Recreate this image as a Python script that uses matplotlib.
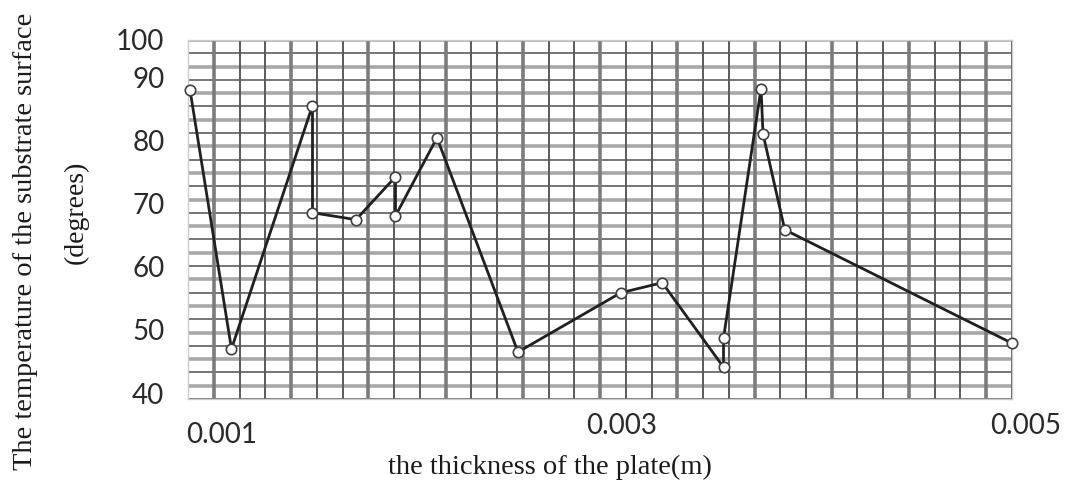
import numpy as np
import matplotlib
matplotlib.use("Agg")
import matplotlib.pyplot as plt
import matplotlib.transforms as mtransforms

# data
thickness = [0.00084, 0.00105, 0.00146, 0.00146, 0.00168, 0.00188, 0.00188,
             0.00209, 0.00250, 0.00302, 0.00323, 0.00354, 0.00354, 0.00373,
             0.00374, 0.00385, 0.00500]
temperature = [88.1, 47.0, 85.6, 68.6, 67.5, 74.3, 68.1,
               80.5, 46.5, 55.9, 57.5, 44.1, 48.7, 88.3,
               81.1, 65.9, 47.9]
xtick_vals = [0.001, 0.003, 0.005]
xtick_labels = ["0.001", "0.003", "0.005"]
ytick_vals = [40, 50, 60, 70, 80, 90, 96]
ytick_labels = ["40", "50", "60", "70", "80", "90", "100"]

W, H = 1073, 487
fig = plt.figure(figsize=(W / 100, H / 100), dpi=100)
fig.patch.set_facecolor("white")
ax = fig.add_axes([188 / W, 1 - 399 / H, (1012 - 188) / W, (399 - 40) / H])

xmin, xmax = 0.00083, 0.00500
ymin, ymax = 39.05, 96.0
ax.set_xlim(xmin, xmax)
ax.set_ylim(ymin, ymax)

# grid pattern
hl = np.linspace(ymin, ymax, 28)
for i, yv in enumerate(hl):
    if i % 2 == 0:
        ax.axhline(yv, color="#5e5e5e", lw=1.2, zorder=1)
    else:
        ax.axhline(yv, color="#a8a8a8", lw=2.6, zorder=1)
vl = np.linspace(xmin, xmax, 33)
for i, xv in enumerate(vl):
    if i % 3 == 1:
        ax.axvline(xv, color="#7c7c7c", lw=2.6, zorder=1)
    else:
        ax.axvline(xv, color="#5a5a5a", lw=1.4, zorder=1)

ax.plot(thickness, temperature, color="#202020", lw=2.0, zorder=3,
        marker="o", ms=7.5, mfc="white", mec="#404040", mew=1.2, clip_on=False)

for s in ax.spines.values():
    s.set_color("#cccccc")
    s.set_linewidth(1.0)

ax.tick_params(length=0)
ax.set_xticks(xtick_vals)
ax.set_xticklabels(xtick_labels, fontfamily="Lato", fontsize=20, color="#2a2a2a")
ax.set_yticks(ytick_vals)
ax.set_yticklabels(ytick_labels, fontfamily="Lato", fontsize=20, color="#2a2a2a")
ax.tick_params(axis="x", pad=10)
ax.tick_params(axis="y", pad=17)

# small positional adjustments for tick labels as in the reference
xl = ax.get_xticklabels()
xl[0].set_transform(xl[0].get_transform() + mtransforms.ScaledTranslation(0, -9 / 100, fig.dpi_scale_trans))
xl[1].set_transform(xl[1].get_transform() + mtransforms.ScaledTranslation(5 / 100, 0, fig.dpi_scale_trans))
xl[2].set_transform(xl[2].get_transform() + mtransforms.ScaledTranslation(14 / 100, 0, fig.dpi_scale_trans))

fig.text(550 / W, 1 - 467 / H, "the thickness of the plate(m)",
         fontfamily="Liberation Serif", fontsize=20.5, color="#1a1a1a",
         ha="center", va="center")
fig.text(26 / W, 1 - 241 / H, "The temperature of the substrate surface",
         fontfamily="Liberation Serif", fontsize=20.5, color="#1a1a1a",
         rotation=90, ha="center", va="center")
fig.text(76 / W, 1 - 212 / H, "(degrees)",
         fontfamily="Liberation Serif", fontsize=20, color="#1a1a1a",
         rotation=90, ha="center", va="center")

fig.savefig("out.png", dpi=100, facecolor="white")
